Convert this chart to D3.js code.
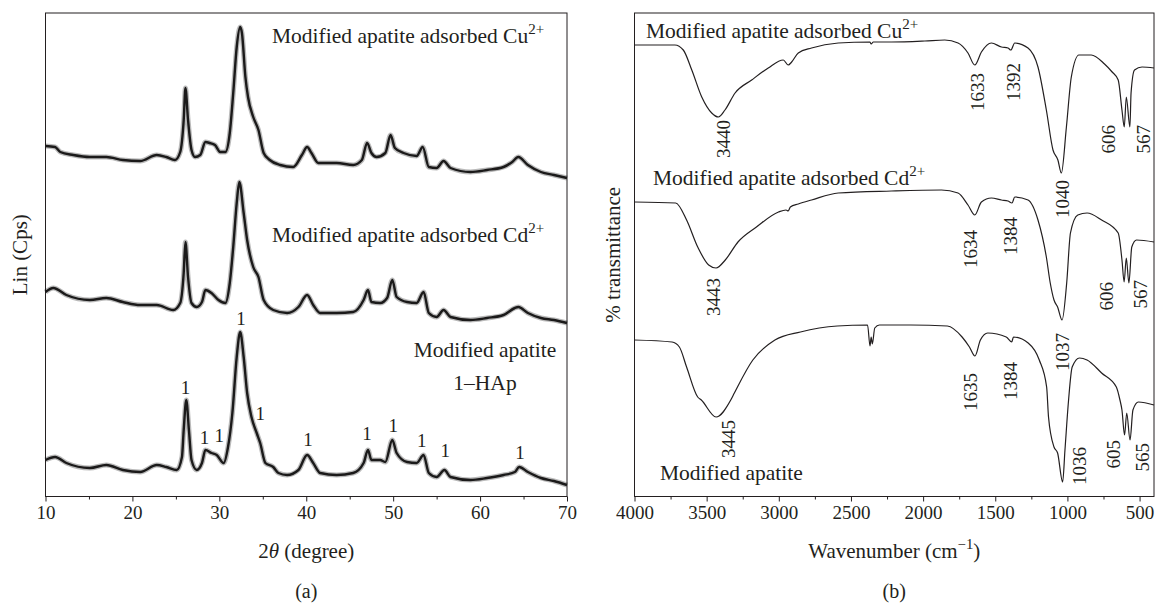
<!DOCTYPE html>
<html lang="en">
<head>
<meta charset="utf-8">
<style>
  body { margin: 0; background: #fff; }
  svg text { font-family: "Liberation Serif", "DejaVu Serif", serif; fill: #231f20; }
  .frame { fill: none; stroke: #231f20; stroke-width: 1px; }
  .xrd-halo { fill: none; stroke: #1b1a1a; stroke-width: 5px; stroke-opacity: .3; stroke-linejoin: round; }
  .xrd { fill: none; stroke: #1b1a1a; stroke-width: 2.4px; stroke-linejoin: round; }
  .ftir { fill: none; stroke: #231f20; stroke-width: 1.2px; stroke-linejoin: round; }
</style>
</head>
<body>
<svg width="1157" height="603"></svg>
<script src="https://cdn.jsdelivr.net/npm/d3@7/dist/d3.min.js"></script>
<script>
// ---- (a) XRD patterns: [2theta, counts (a.u., offset)] ----
var cuXrd = [[10,350],[11.1,349],[11.7,344],[13.2,341],[15.1,339],[17,339],[18.9,336],[20.9,335],
  [22.8,341],[23.9,339],[24.9,336],[25.5,344],[25.9,376],[26.1,408],[26.4,376],[26.8,346],[27.2,339],
  [27.8,341],[28.4,354],[28.9,353],[29.5,351],[30.1,344],[30.7,344],[31.2,363],[31.6,403],[32,449],
  [32.4,469],[32.6,463],[33,419],[33.3,399],[33.9,379],[34.5,366],[35.1,343],[35.8,336],[37,331],
  [38.5,329],[39.5,341],[40.1,349],[40.6,343],[41.4,333],[43.5,333],[45.4,331],[46.4,336],[47,353],
  [47.5,343],[48.1,339],[49.1,343],[49.7,361],[50.2,348],[51.2,343],[52.7,340],[53.4,349],[54.1,329],
  [55,328],[55.8,335],[56.6,328],[58.9,324],[60.8,326],[62.7,329],[63.7,334],[64.4,339],[65.5,331],
  [67,324],[68.5,321],[70,318]];

var cdXrd = [[10,204],[10.9,208],[12.4,201],[15.1,196],[17,198],[18.9,194],[20.9,191],[22.8,191],
  [24.7,186],[25.5,193],[25.9,223],[26.1,254],[26.4,219],[26.8,193],[27.4,189],[28,194],[28.4,206],
  [29.1,203],[29.9,196],[30.7,193],[31.2,213],[31.6,249],[32,293],[32.3,314],[32.8,283],[33.2,256],
  [33.9,229],[34.5,219],[35.1,196],[36.2,186],[37.8,183],[39.1,189],[40.1,201],[40.8,191],[41.6,183],
  [43.5,183],[45.4,184],[46.6,196],[47.1,206],[47.5,194],[48.5,193],[49.3,198],[49.9,216],[50.4,199],
  [51.6,194],[52.7,193],[53.5,204],[54.1,183],[55,179],[55.8,186],[56.6,179],[58.9,176],[60.8,178],
  [62.7,181],[64,188],[64.4,189],[65.5,183],[67,178],[68.5,176],[70,173]];

var hapXrd = [[10,36],[11.1,39],[12.4,33],[15.1,28],[17,31],[18.9,26],[20.9,24],[22.8,31],[23.9,29],
  [25.1,26],[25.7,39],[25.9,66],[26.2,96],[26.5,66],[26.8,36],[27.4,26],[28,33],[28.4,46],[29.1,43],
  [29.7,41],[30.5,33],[31,49],[31.5,83],[32,139],[32.4,164],[32.8,139],[33.2,103],[33.7,79],[34.3,63],
  [34.7,53],[35.3,33],[36.2,29],[36.8,23],[37.8,21],[39.1,26],[40.1,41],[40.8,33],[41.6,23],[43.5,21],
  [45.4,23],[46.6,33],[47.1,46],[47.5,36],[48.5,36],[49.1,34],[49.9,56],[50.4,43],[51.6,34],[52.7,33],
  [53.5,41],[54.1,23],[55,19],[55.9,26],[56.6,19],[58.9,16],[60.8,18],[62.7,21],[64,24],[64.5,29],
  [65.5,24],[67,18],[68.5,15],[70,11]];

// HAp reflections marked "1" (2theta, label height)
var hapPeakPos = [26.1, 28.3, 30.0, 32.5, 34.7, 40.2, 47.0, 50.0, 53.3, 56.0, 64.6];
var hapPeakLabel = [109, 59, 61, 178, 83, 57, 63, 71, 56, 46, 44];

var xrdTicks = [10, 20, 30, 40, 50, 60, 70];
var xrdMinor = [15, 25, 35, 45, 55, 65];

// ---- (b) FTIR spectra: [wavenumber, transmittance (a.u., offset)] ----
var cuFtir = [[4000,452],[3720,452],[3662,447],[3603,427],[3534,400],[3465,384],[3419,380],[3373,387],
  [3303,404],[3188,417],[3073,429],[2969,437],[2935,432],[2911,435],[2865,444],[2773,449],[2588,454],
  [2369,455],[2360,453],[2345,455],[2219,455],[1988,456],[1850,457],[1758,454],[1689,444],[1642,432],
  [1596,445],[1527,454],[1457,450],[1412,449],[1392,447],[1365,454],[1273,449],[1204,430],[1146,387],
  [1100,347],[1066,337],[1042,324],[1007,370],[973,420],[920,442],[835,442],[743,433],[690,425],
  [648,417],[622,387],[606,370],[592,400],[567,370],[559,404],[535,427],[483,430],[400,429]];

var cdFtir = [[4000,295],[3715,294],[3639,277],[3562,250],[3486,232],[3435,229],[3371,237],[3283,255],
  [3155,270],[3002,285],[2950,287],[2935,286],[2920,290],[2865,293],[2773,297],[2588,304],[2219,306],
  [1873,307],[1758,304],[1689,292],[1642,282],[1596,295],[1527,299],[1457,297],[1412,296],[1384,294],
  [1365,300],[1273,297],[1204,277],[1146,240],[1119,214],[1093,197],[1068,190],[1037,177],[1005,214],
  [979,264],[928,282],[864,284],[763,277],[648,264],[622,237],[607,215],[592,239],[574,214],[554,250],
  [521,257],[400,255]];

var hapFtir = [[4000,157],[3740,155],[3689,150],[3639,130],[3562,100],[3537,97],[3435,80],[3333,97],
  [3308,104],[3180,137],[3027,157],[2850,165],[2595,171],[2385,172],[2368,151],[2360,160],[2352,153],
  [2335,169],[2303,172],[2086,172],[1832,171],[1730,160],[1679,150],[1641,141],[1603,157],[1552,164],[1424,160],
  [1386,155],[1374,160],[1272,154],[1195,137],[1144,110],[1131,80],[1093,50],[1068,44],[1033,15],
  [1017,47],[992,97],[967,130],[916,139],[864,137],[763,124],[661,110],[636,97],[622,87],[604,62],
  [589,84],[566,57],[546,87],[508,95],[400,92]];

// band labels: text, label x (wavenumber), label top (a.u.)
var cuBands = [["3440",3387,377],["1633",1626,424],["1392",1373,434],["1040",1037,317],["606",719,372],["567",477,372]];
var cdBands = [["3443",3453,219],["1634",1674,267],["1384",1394,280],["1037",1037,164],["606",733,215],["567",497,217]];
var hapBands = [["3445",3353,77],["1635",1674,124],["1384",1394,135],["1036",916,50],["605",681,57],["565",484,54]];

var ftirTicks = [4000, 3500, 3000, 2500, 2000, 1500, 1000, 500];
var ftirMinor = [3750, 3250, 2750, 2250, 1750, 1250, 750];

// ---- layout ----
var svg = d3.select("svg"),
    ink = "#231f20",
    plotTop = 13, plotBottom = 496.5;

var xrdX = d3.scaleLinear().domain([10, 70]).range([45.5, 567]);
var xrdY = d3.scaleLinear().domain([0, 483]).range([496, 13]);
var ftirX = d3.scaleLinear().domain([4000, 400]).range([634.5, 1154]);
var ftirY = d3.scaleLinear().domain([0, 483]).range([497, 14]);

function drawAxis(scale, major, minor) {
    var g = svg.append("g").attr("transform", "translate(0," + plotBottom + ")");
    g.append("g")
        .call(d3.axisBottom(scale).tickValues(minor).tickSize(3).tickFormat(""))
        .call(function (a) { a.select(".domain").remove(); });
    g.append("g")
        .call(d3.axisBottom(scale).tickValues(major).tickSize(5).tickPadding(4).tickFormat(d3.format("d")))
        .call(function (a) { a.select(".domain").remove(); });
    g.selectAll("g").attr("font-family", null).attr("font-size", null);
    g.selectAll("line").attr("stroke", ink);
    g.selectAll("text").attr("font-size", 19).attr("fill", ink);
}

function supText(x, y, main, sup, size, anchor) {
    var t = svg.append("text").attr("x", x).attr("y", y)
        .attr("font-size", size).attr("text-anchor", anchor || "start");
    t.append("tspan").text(main);
    t.append("tspan").attr("dy", "-0.6em").attr("font-size", "0.7em").text(sup);
    return t;
}

// panel (a)
svg.append("rect").attr("class", "frame")
    .attr("x", xrdX(10)).attr("y", plotTop)
    .attr("width", xrdX(70) - xrdX(10)).attr("height", plotBottom - plotTop);
drawAxis(xrdX, xrdTicks, xrdMinor);

var xrdLine = d3.line().curve(d3.curveMonotoneX)
    .x(function (d) { return xrdX(d[0]); }).y(function (d) { return xrdY(d[1]); });
[cuXrd, cdXrd, hapXrd].forEach(function (s) {
    svg.append("path").attr("class", "xrd-halo").attr("d", xrdLine(s));
    svg.append("path").attr("class", "xrd").attr("d", xrdLine(s));
});

svg.selectAll(".peak1").data(hapPeakPos).enter().append("text")
    .attr("class", "peak1")
    .attr("x", function (d) { return xrdX(d); })
    .attr("y", function (d, i) { return xrdY(hapPeakLabel[i]); })
    .attr("dy", "0.35em").attr("text-anchor", "middle").attr("font-size", 19)
    .text("1");

supText(272, 43, "Modified apatite adsorbed Cu", "2+", 21.5);
supText(272, 242, "Modified apatite adsorbed Cd", "2+", 21.5);
svg.append("text").attr("x", 485).attr("y", 357).attr("text-anchor", "middle")
    .attr("font-size", 21.5).text("Modified apatite");
svg.append("text").attr("x", 485).attr("y", 390).attr("text-anchor", "middle")
    .attr("font-size", 21.5).text("1\u2013HAp");

svg.append("text").attr("transform", "translate(27," + (plotTop + plotBottom) / 2 + ") rotate(-90)")
    .attr("text-anchor", "middle").attr("font-size", 21).text("Lin (Cps)");
var xt = svg.append("text").attr("x", (xrdX(10) + xrdX(70)) / 2).attr("y", 558)
    .attr("text-anchor", "middle").attr("font-size", 21);
xt.append("tspan").text("2");
xt.append("tspan").attr("font-style", "italic").text("\u03b8");
xt.append("tspan").text(" (degree)");
svg.append("text").attr("x", (xrdX(10) + xrdX(70)) / 2).attr("y", 598)
    .attr("text-anchor", "middle").attr("font-size", 20).text("(a)");

// panel (b)
svg.append("rect").attr("class", "frame")
    .attr("x", ftirX(4000)).attr("y", plotTop)
    .attr("width", ftirX(400) - ftirX(4000)).attr("height", plotBottom - plotTop);
drawAxis(ftirX, ftirTicks, ftirMinor);

var ftirLine = d3.line().curve(d3.curveMonotoneX)
    .x(function (d) { return ftirX(d[0]); }).y(function (d) { return ftirY(d[1]); });
[cuFtir, cdFtir, hapFtir].forEach(function (s) {
    svg.append("path").attr("class", "ftir").attr("d", ftirLine(s));
});

[cuBands, cdBands, hapBands].forEach(function (bands) {
    bands.forEach(function (b) {
        svg.append("text")
            .attr("transform", "translate(" + ftirX(b[1]) + "," + ftirY(b[2]) + ") rotate(-90)")
            .attr("text-anchor", "end").attr("dy", "0.35em").attr("font-size", 19)
            .text(b[0]);
    });
});

supText(646, 38, "Modified apatite adsorbed Cu", "2+", 21.5);
supText(653, 185, "Modified apatite adsorbed Cd", "2+", 21.5);
svg.append("text").attr("x", 660).attr("y", 480).attr("font-size", 21.5).text("Modified apatite");

svg.append("text").attr("transform", "translate(620," + (plotTop + plotBottom) / 2 + ") rotate(-90)")
    .attr("text-anchor", "middle").attr("font-size", 21).text("% transmittance");
var wt = svg.append("text").attr("x", (ftirX(4000) + ftirX(400)) / 2).attr("y", 558)
    .attr("text-anchor", "middle").attr("font-size", 21);
wt.append("tspan").text("Wavenumber (cm");
wt.append("tspan").attr("dy", "-0.6em").attr("font-size", "0.7em").text("\u22121");
wt.append("tspan").attr("dy", "0.42em").text(")");
svg.append("text").attr("x", (ftirX(4000) + ftirX(400)) / 2).attr("y", 598)
    .attr("text-anchor", "middle").attr("font-size", 20).text("(b)");
</script>
</body>
</html>
